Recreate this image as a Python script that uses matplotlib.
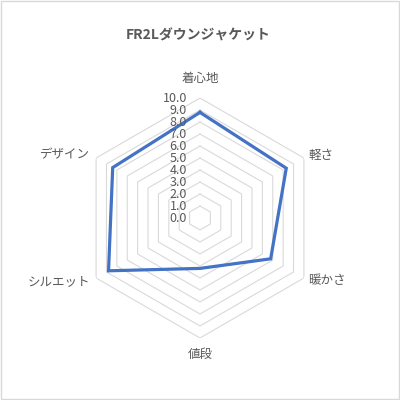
import numpy as np
import matplotlib.pyplot as plt
from matplotlib.patches import Rectangle

plt.rcParams['font.family'] = ['Noto Sans CJK JP', 'DejaVu Sans']

# データ
categories = ['着心地', '軽さ', '暖かさ', '値段', 'シルエット', 'デザイン']
values = [8.8, 8.3, 6.8, 4.2, 8.8, 8.4]
grid_levels = [1, 2, 3, 4, 5, 6, 7, 8, 9, 10]
tick_values = [0, 1, 2, 3, 4, 5, 6, 7, 8, 9, 10]
title = 'FR2Lダウンジャケット'

text_color = '#595959'
grid_color = '#D9D9D9'
line_color = '#4472C4'

n = len(categories)
angles = np.linspace(0, 2 * np.pi, n, endpoint=False)
closed = np.append(angles, angles[0])

fig = plt.figure(figsize=(4, 4), dpi=100)
ax = fig.add_axes([0.2, 0.155, 0.6, 0.6], projection='polar')
ax.set_theta_zero_location('N')
ax.set_theta_direction(-1)
ax.set_ylim(0, 10)
ax.grid(False)
ax.spines['polar'].set_visible(False)
ax.set_xticks([])
ax.set_yticks([])
ax.patch.set_visible(False)

# 六角形のグリッド
for lv in grid_levels:
    ax.plot(closed, [lv] * (n + 1), color=grid_color, lw=0.8, zorder=1)

# データ系列
ax.plot(closed, values + values[:1], color=line_color, lw=2.3, zorder=3,
        solid_joinstyle='miter', clip_on=False)

# 目盛りラベル
for t in tick_values:
    ax.annotate(f'{t:.1f}', xy=(0, t), xytext=(-9.5, 0), textcoords='offset points',
                ha='right', va='center', fontsize=9, color=text_color)

# 項目ラベル
label_pos = [(11.6, 'center'), (10.4, 'left'), (10.4, 'left'),
             (11.4, 'center'), (10.6, 'right'), (10.6, 'right')]
for ang, cat, (r, ha) in zip(angles, categories, label_pos):
    ax.text(ang, r, cat, ha=ha, va='center', fontsize=9, color=text_color)

fig.text(0.495, 0.912, title, ha='center', va='center', fontsize=10,
         fontweight='bold', color=text_color)

fig.patches.append(Rectangle((0.002, 0.002), 0.995, 0.995, transform=fig.transFigure,
                             fill=False, ec=grid_color, lw=1))

fig.savefig('out.png', dpi=100, facecolor='white')
